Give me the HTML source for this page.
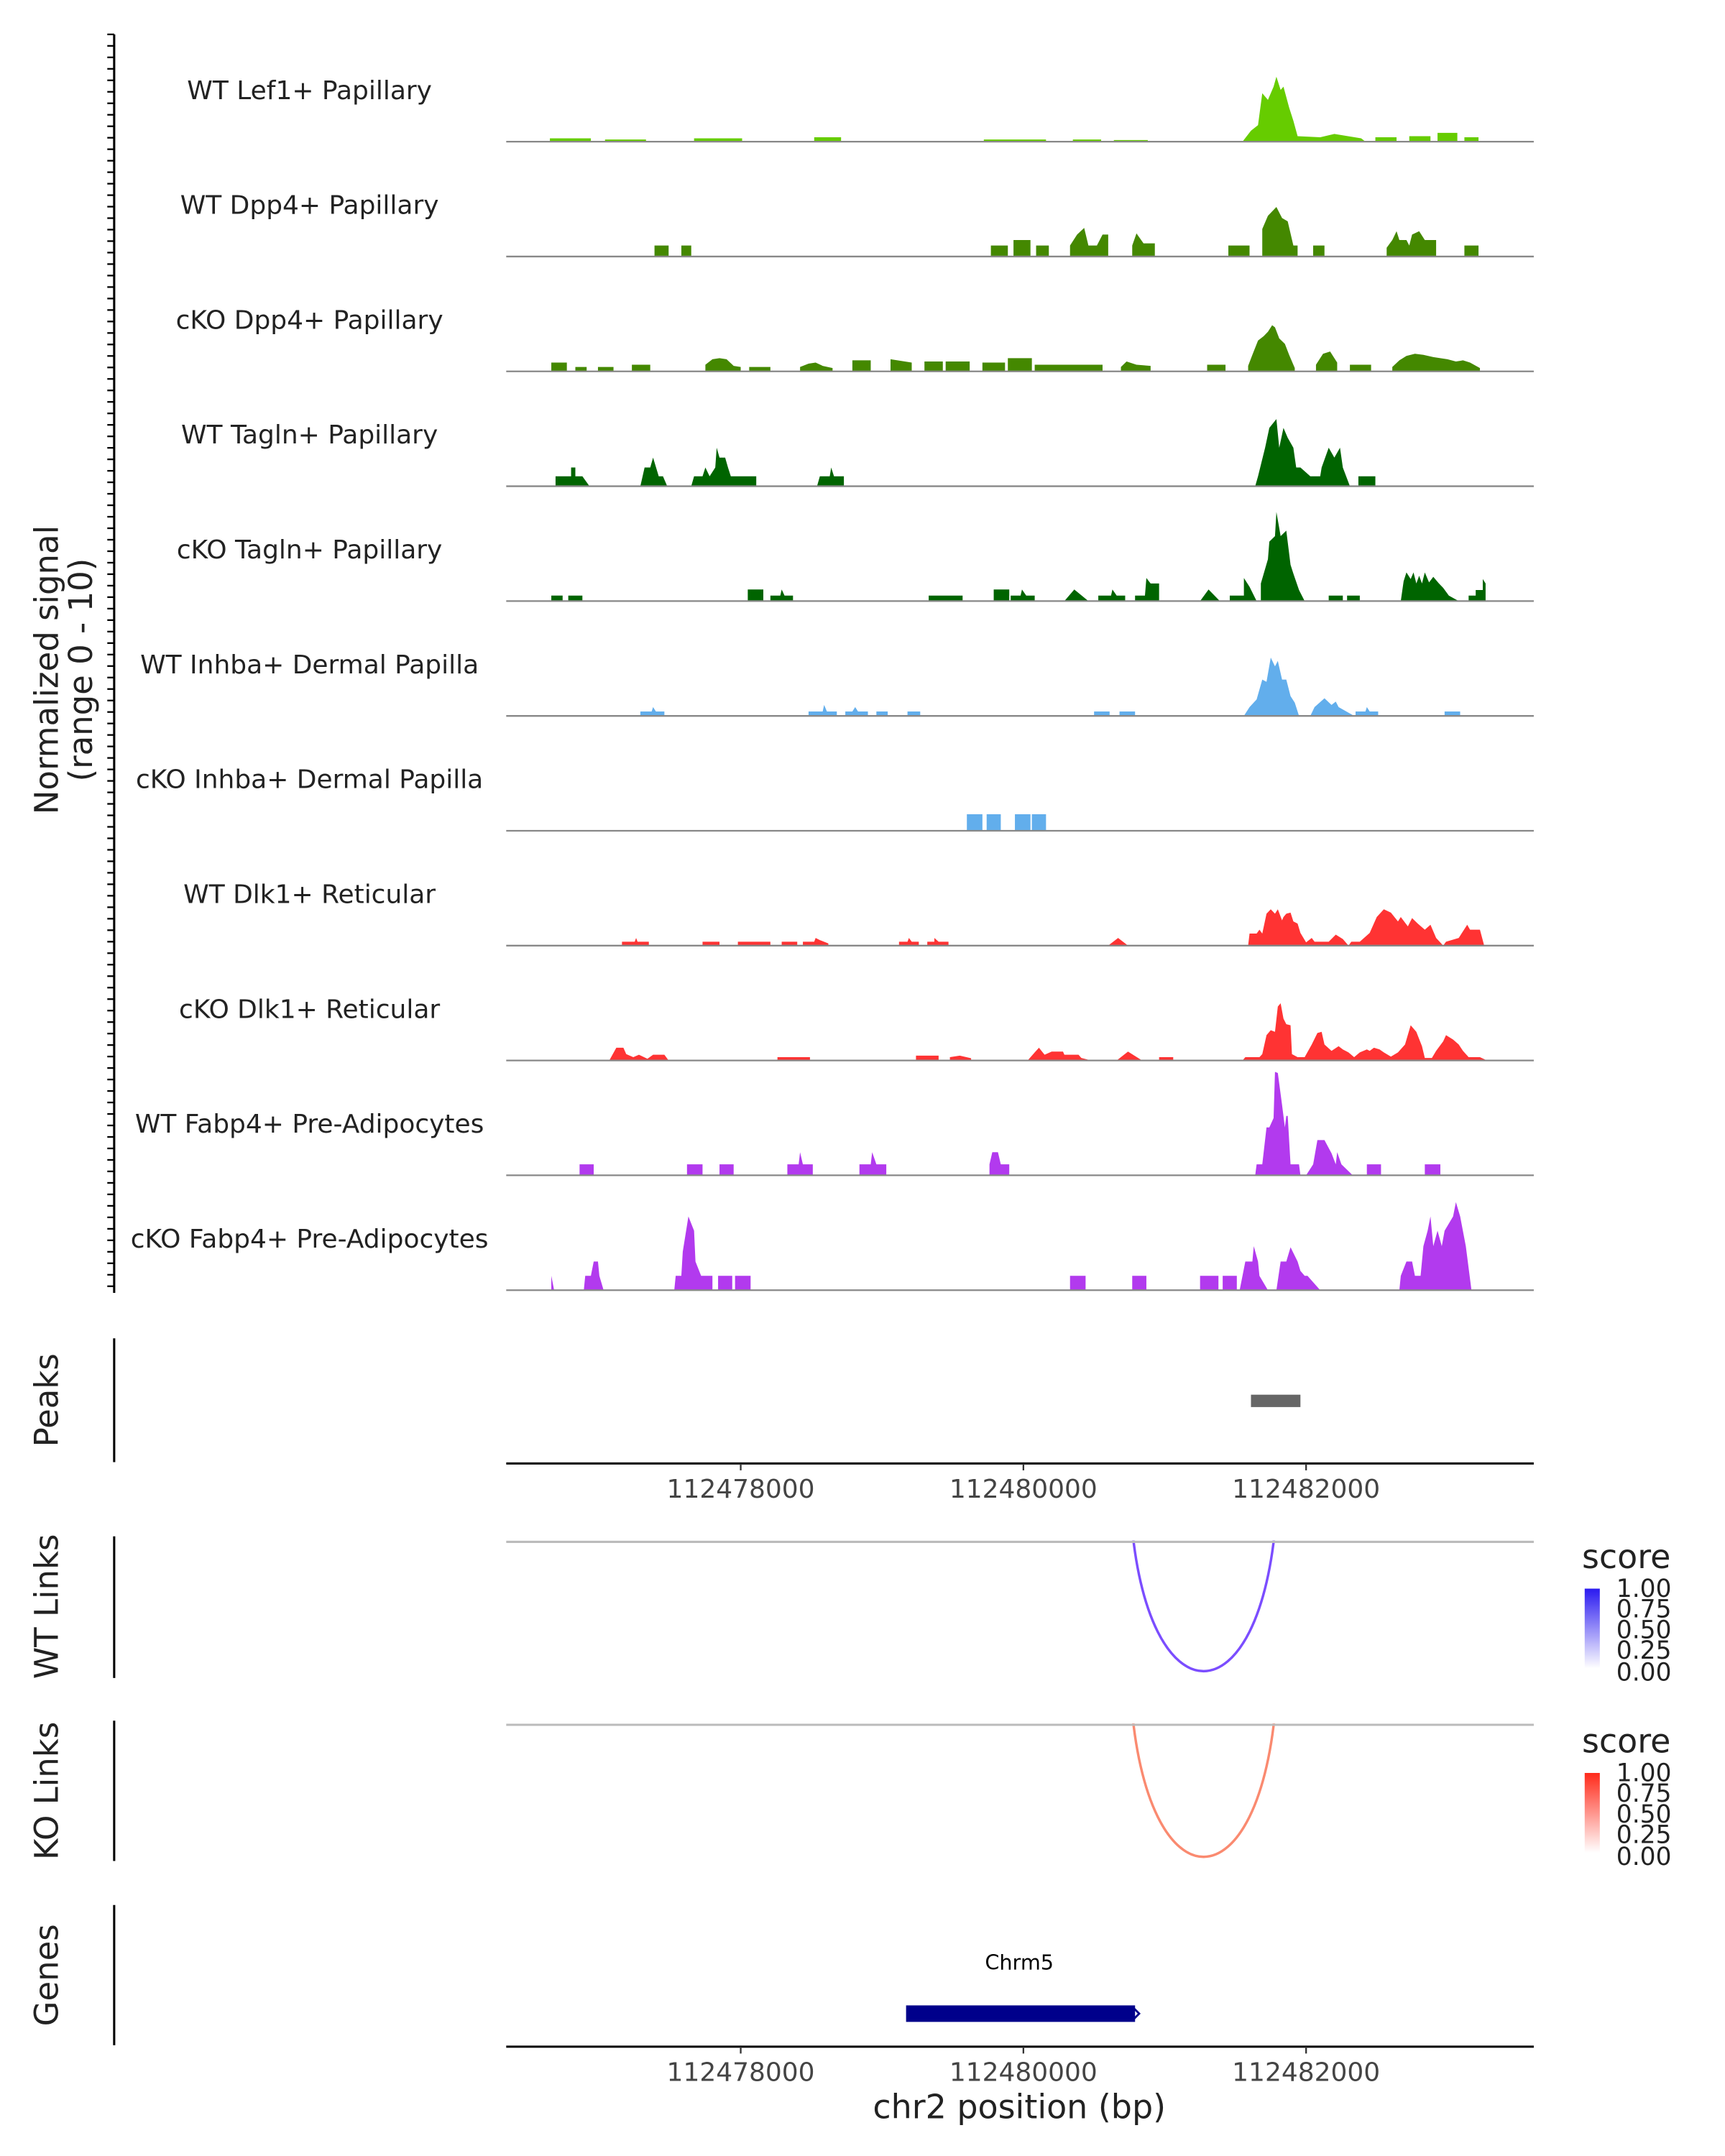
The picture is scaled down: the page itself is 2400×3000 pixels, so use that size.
<!DOCTYPE html>
<html><head><meta charset="utf-8"><style>html,body{margin:0;padding:0;background:#fff}svg{display:block}text{font-family:"DejaVu Sans","Liberation Sans",sans-serif}</style></head>
<body>
<svg id="chart" xmlns="http://www.w3.org/2000/svg" width="2400" height="3000" viewBox="0 0 1254 1567.5">
<rect x="0" y="0" width="1254" height="1567.5" fill="#fff"/>
<g id="tracks"></g>
<text transform="translate(42,487) rotate(-90)" text-anchor="middle" font-size="23.5" fill="#222">Normalized signal</text>
<text transform="translate(67,487) rotate(-90)" text-anchor="middle" font-size="23.5" fill="#222">(range 0 - 10)</text>
<text transform="translate(42,1018) rotate(-90)" text-anchor="middle" font-size="23.5" fill="#222">Peaks</text>
<line x1="83" y1="973" x2="83" y2="1063" stroke="#000" stroke-width="1.6"/>
<text transform="translate(42,1168) rotate(-90)" text-anchor="middle" font-size="23.5" fill="#222">WT Links</text>
<line x1="83" y1="1117" x2="83" y2="1220" stroke="#000" stroke-width="1.6"/>
<text transform="translate(42,1302) rotate(-90)" text-anchor="middle" font-size="23.5" fill="#222">KO Links</text>
<line x1="83" y1="1251" x2="83" y2="1353" stroke="#000" stroke-width="1.6"/>
<text transform="translate(42,1436) rotate(-90)" text-anchor="middle" font-size="23.5" fill="#222">Genes</text>
<line x1="83" y1="1385" x2="83" y2="1487" stroke="#000" stroke-width="1.6"/>
<line x1="368" y1="1121" x2="1115" y2="1121" stroke="#bbb" stroke-width="1.6"/>
<line x1="368" y1="1254" x2="1115" y2="1254" stroke="#bbb" stroke-width="1.6"/>
<text x="741" y="1432" text-anchor="middle" font-size="15" fill="#000">Chrm5</text>
<text x="741" y="1540" text-anchor="middle" font-size="24" fill="#222">chr2 position (bp)</text>
<defs>
<linearGradient id="gblue" x1="0" y1="1" x2="0" y2="0"><stop offset="0" stop-color="#fff"/><stop offset="1" stop-color="#2a1af0"/></linearGradient>
<linearGradient id="gred" x1="0" y1="1" x2="0" y2="0"><stop offset="0" stop-color="#fff"/><stop offset="1" stop-color="#ff2a1a"/></linearGradient>
</defs>
<g>
<text x="1150" y="1140" font-size="24" fill="#222">score</text>
<rect x="1152" y="1155" width="11" height="58" fill="url(#gblue)"/>
<g font-size="18" fill="#222"><text x="1175" y="1161">1.00</text><text x="1175" y="1176">0.75</text><text x="1175" y="1191">0.50</text><text x="1175" y="1206">0.25</text><text x="1175" y="1222">0.00</text></g>
</g>
<g>
<text x="1150" y="1274" font-size="24" fill="#222">score</text>
<rect x="1152" y="1289" width="11" height="58" fill="url(#gred)"/>
<g font-size="18" fill="#222"><text x="1175" y="1295">1.00</text><text x="1175" y="1310">0.75</text><text x="1175" y="1325">0.50</text><text x="1175" y="1340">0.25</text><text x="1175" y="1356">0.00</text></g>
</g>
</svg>
<script>
const trackNames = ["WT Lef1+ Papillary","WT Dpp4+ Papillary","cKO Dpp4+ Papillary","WT Tagln+ Papillary","cKO Tagln+ Papillary","WT Inhba+ Dermal Papilla","cKO Inhba+ Dermal Papilla","WT Dlk1+ Reticular","cKO Dlk1+ Reticular","WT Fabp4+ Pre-Adipocytes","cKO Fabp4+ Pre-Adipocytes"];
const trackColors = ["#66cc00","#448800","#448800","#006400","#006400","#62aeec","#62aeec","#ff3333","#ff3333","#b23aee","#b23aee"];
const xTicks = [112478000,112480000,112482000];
const xTickLabels = ["112478000","112480000","112482000"];
const peakRanges = [[112481610,112481960]];
const wtLinks = [[112480760,112481790,0.62]];
const koLinks = [[112480760,112481790,0.55]];
const genes = [["Chrm5",112479170,112480790]];
// signal segments: [kb, value]
const sig0 = [[[476.65,.3],[476.94,.3]],[[477.04,.2],[477.33,.2]],[[477.67,.3],[478.01,.3]],[[478.52,.4],[478.71,.4]],[[479.72,.2],[480.16,.2]],[[480.35,.2],[480.55,.2]],[[480.64,.15],[480.88,.15]],
[[481.55,0],[481.61,1.0],[481.66,1.5],[481.69,4.4],[481.73,3.8],[481.77,5],[481.79,5.9],[481.82,4.7],[481.84,5],[481.88,3.1],[481.91,1.9],[481.94,.5],[482.10,.4],[482.20,.7],[482.39,.3],[482.42,0]],
[[482.49,.4],[482.64,.4]],[[482.73,.5],[482.88,.5]],[[482.93,.8],[483.07,.8]],[[483.12,.4],[483.22,.4]]];
const sig1 = [[[477.39,1],[477.49,1]],[[477.58,1],[477.65,1]],[[479.77,1],[479.89,1]],[[479.93,1.5],[480.05,1.5]],[[480.09,1],[480.18,1]],
[[480.33,1],[480.38,2],[480.43,2.6],[480.46,1],[480.52,1],[480.56,2],[480.60,2]],[[480.77,1],[480.80,2.1],[480.85,1.2],[480.93,1.2]],[[481.45,1],[481.60,1]],
[[481.69,2.5],[481.73,3.7],[481.79,4.5],[481.83,3.5],[481.87,3.2],[481.91,1],[481.94,1]],[[482.05,1],[482.13,1]],
[[482.57,.8],[482.61,1.5],[482.64,2.3],[482.66,1.5],[482.71,1.5],[482.73,1],[482.75,2],[482.80,2.3],[482.84,1.5],[482.92,1.5]],[[483.12,1],[483.22,1]]];
const sig2 = [[[476.66,.8],[476.77,.8]],[[476.83,.4],[476.91,.4]],[[476.99,.4],[477.10,.4]],[[477.23,.6],[477.36,.6]],
[[477.75,.6],[477.80,1.1],[477.85,1.2],[477.90,1.1],[477.95,.5],[478.00,.4]],[[478.06,.4],[478.21,.4]],[[478.42,.4],[478.48,.7],[478.53,.8],[478.58,.5],[478.65,.3]],
[[478.79,1],[478.92,1]],[[479.06,1.1],[479.21,.8]],[[479.30,.9],[479.43,.9]],[[479.45,.9],[479.62,.9]],[[479.71,.8],[479.87,.8]],[[479.89,1.2],[480.06,1.2]],[[480.08,.6],[480.56,.6]],
[[480.69,.4],[480.73,.9],[480.80,.6],[480.90,.5]],[[481.30,.6],[481.43,.6]],
[[481.59,.5],[481.62,1.5],[481.66,2.8],[481.70,3.2],[481.73,3.6],[481.76,4.2],[481.78,4.0],[481.81,3.0],[481.85,2.5],[481.88,1.5],[481.92,.3]],
[[482.07,.6],[482.12,1.6],[482.17,1.8],[482.22,.8]],[[482.31,.6],[482.46,.6]],
[[482.61,.4],[482.66,1.0],[482.71,1.4],[482.77,1.6],[482.83,1.5],[482.90,1.3],[482.95,1.2],[483.00,1.1],[483.06,.9],[483.11,1.0],[483.16,.8],[483.23,.3]]];
const sig3 = [[[476.69,.9],[476.80,.9],[476.80,1.7],[476.83,1.7],[476.83,.9],[476.88,.9],[476.93,0]],
[[477.29,0],[477.32,1.7],[477.36,1.7],[477.38,2.6],[477.42,.9],[477.45,.9],[477.48,0]],
[[477.65,0],[477.67,.9],[477.73,.9],[477.75,1.7],[477.78,.9],[477.82,1.7],[477.83,3.5],[477.85,2.6],[477.89,2.6],[477.91,1.7],[477.93,.9],[478.11,.9]],
[[478.54,0],[478.56,.9],[478.63,.9],[478.64,1.7],[478.66,.9],[478.73,.9]],
[[481.64,0],[481.66,.9],[481.71,3.5],[481.74,5.3],[481.79,6.1],[481.81,3.5],[481.84,5.3],[481.87,4.4],[481.91,3.5],[481.93,1.7],[481.96,1.7],[482.03,.9],[482.10,.9],[482.11,1.7],[482.16,3.5],[482.20,2.6],[482.24,3.5],[482.26,1.7],[482.31,0]],
[[482.37,.9],[482.49,.9]]];
const sig4 = [[[476.66,.5],[476.74,.5]],[[476.78,.5],[476.88,.5]],[[478.05,1.05],[478.16,1.05]],[[478.21,.5],[478.28,.5],[478.29,1.05],[478.31,.5],[478.37,.5]],[[479.33,.5],[479.57,.5]],
[[479.79,1.05],[479.90,1.05]],[[479.91,.5],[479.98,.5],[479.99,1.05],[480.02,.5],[480.08,.5]],[[480.29,0],[480.36,1.05],[480.46,0]],[[480.53,.5],[480.62,.5],[480.63,1.05],[480.66,.5],[480.72,.5]],
[[480.79,.5],[480.86,.5],[480.87,2.1],[480.90,1.6],[480.96,1.6]],[[481.25,0],[481.31,1.05],[481.39,0]],[[481.46,.5],[481.56,.5],[481.56,2.1],[481.60,1.3],[481.65,0]],
[[481.68,1.6],[481.73,3.8],[481.74,5.4],[481.78,5.9],[481.79,8.1],[481.82,5.9],[481.86,6.4],[481.89,3.3],[481.91,2.5],[481.95,1.0],[481.99,0]],
[[482.16,.5],[482.26,.5]],[[482.29,.5],[482.38,.5]],
[[482.67,0],[482.69,1.8],[482.71,2.6],[482.74,2.0],[482.76,2.6],[482.78,1.6],[482.80,2.3],[482.82,1.6],[482.84,2.6],[482.87,1.7],[482.90,2.2],[482.94,1.6],[482.97,1.2],[483.01,.5],[483.08,0]],
[[483.15,.5],[483.20,.5],[483.20,1.0],[483.25,1.0],[483.25,2.0],[483.27,1.6]]];
const sig5 = [[[477.29,.4],[477.37,.4],[477.38,.8],[477.40,.4],[477.46,.4]],[[478.48,.4],[478.58,.4],[478.59,1.0],[478.61,.4],[478.68,.4]],[[478.74,.4],[478.79,.4],[478.81,.8],[478.83,.4],[478.90,.4]],
[[478.96,.4],[479.04,.4]],[[479.18,.4],[479.27,.4]],[[480.50,.4],[480.61,.4]],[[480.68,.4],[480.79,.4]],
[[481.56,0],[481.60,.8],[481.65,1.5],[481.69,3.3],[481.72,3.1],[481.75,5.3],[481.78,4.5],[481.80,5.0],[481.83,3.3],[481.86,3.3],[481.89,1.8],[481.92,1.2],[481.95,0]],
[[482.03,0],[482.06,.8],[482.13,1.6],[482.18,1.0],[482.21,1.3],[482.23,.8],[482.34,0]],[[482.35,.4],[482.42,.4],[482.43,.8],[482.45,.4],[482.51,.4]],[[482.98,.4],[483.09,.4]]];
const sig6 = [[[479.60,1.5],[479.71,1.5]],[[479.74,1.5],[479.84,1.5]],[[479.94,1.5],[480.05,1.5]],[[480.06,1.5],[480.16,1.5]]];
const sig7 = [[[477.16,.35],[477.25,.35],[477.26,.7],[477.27,.35],[477.35,.35]],[[477.73,.35],[477.85,.35]],[[477.98,.35],[478.21,.35]],[[478.29,.35],[478.40,.35]],
[[478.44,.35],[478.52,.35],[478.53,.7],[478.56,.5],[478.62,.2]],[[479.12,.35],[479.18,.35],[479.19,.7],[479.21,.35],[479.26,.35]],[[479.32,.35],[479.37,.35],[479.37,.7],[479.40,.35],[479.47,.35]],
[[480.60,0],[480.67,.7],[480.74,0]],
[[481.59,0],[481.60,1.1],[481.65,1.1],[481.67,1.45],[481.69,1.1],[481.72,2.9],[481.75,3.3],[481.78,2.9],[481.80,3.3],[481.83,2.3],[481.84,2.6],[481.86,2.9],[481.89,3.0],[481.91,2.2],[481.94,2.0],[481.96,1.15],[482.00,.3],[482.04,.7],[482.06,.35],[482.16,.35],[482.21,1.0],[482.26,.6],[482.30,0],
[482.32,.35],[482.38,.35],[482.45,1.15],[482.50,2.6],[482.55,3.3],[482.60,3.0],[482.65,2.2],[482.67,2.6],[482.72,1.75],[482.75,2.5],[482.79,2.0],[482.84,1.45],[482.88,1.9],[482.92,.7],[482.97,0],[482.99,.35],[483.08,.7],[483.14,1.9],[483.16,1.45],[483.23,1.45],[483.26,0]]];
const sig8 = [[[477.07,0],[477.12,1.16],[477.17,1.16],[477.19,.58],[477.24,.3],[477.28,.52],[477.34,.15],[477.38,.52],[477.46,.52],[477.49,0]],[[478.26,.3],[478.49,.3]],[[479.24,.44],[479.40,.44]],[[479.48,.3],[479.55,.44],[479.63,.2]],
[[480.03,0],[480.08,.73],[480.11,1.16],[480.15,.52],[480.20,.81],[480.28,.81],[480.29,.52],[480.39,.52],[480.41,.23],[480.48,0]],[[480.66,0],[480.74,.81],[480.84,0]],[[480.96,.3],[481.06,.3]],
[[481.55,0],[481.57,.3],[481.67,.3],[481.69,.58],[481.72,2.3],[481.75,2.75],[481.78,2.6],[481.80,4.9],[481.82,5.2],[481.84,3.8],[481.86,3.3],[481.89,3.2],[481.90,.58],[481.94,.3],[481.99,.3],[482.04,1.45],[482.08,2.5],[482.11,2.6],[482.13,1.45],[482.18,.87],[482.23,1.3],[482.26,1.0],[482.30,.73],[482.34,.3],[482.38,.73],[482.43,1.0],[482.45,.87],[482.48,1.16],[482.52,1.0],[482.55,.73],[482.60,.35],[482.65,.73],[482.70,1.45],[482.74,3.2],[482.78,2.6],[482.82,1.3],[482.84,.23],[482.89,.23],[482.92,.87],[482.97,1.74],[482.99,2.3],[483.04,1.9],[483.08,1.45],[483.11,.87],[483.15,.3],[483.23,.3],[483.28,0]]];
const sig9 = [[[476.86,1.0],[476.96,1.0]],[[477.62,1.0],[477.73,1.0]],[[477.85,1.0],[477.95,1.0]],[[478.33,1.0],[478.41,1.0],[478.42,2.1],[478.44,1.0],[478.51,1.0]],[[478.84,1.0],[478.92,1.0],[478.93,2.1],[478.96,1.0],[479.03,1.0]],
[[479.76,1.0],[479.78,2.1],[479.82,2.1],[479.84,1.0],[479.90,1.0]],
[[481.64,0],[481.65,1.0],[481.69,1.0],[481.72,4.35],[481.74,4.35],[481.77,5.2],[481.78,9.4],[481.80,9.3],[481.83,6.4],[481.85,4.35],[481.86,5.4],[481.87,5.4],[481.89,1.0],[481.95,1.0],[481.96,0]],
[[482.00,0],[482.05,1.0],[482.08,3.2],[482.13,3.2],[482.18,2.0],[482.21,1.0],[482.22,2.1],[482.25,1.0],[482.33,0]],[[482.43,1.0],[482.53,1.0]],[[482.84,1.0],[482.95,1.0]]];
const sig10 = [[[476.66,1.3],[476.68,0]],[[476.89,0],[476.90,1.3],[476.94,1.3],[476.96,2.6],[476.99,2.6],[477.00,1.3],[477.03,0]],
[[477.53,0],[477.54,1.3],[477.58,1.3],[477.59,3.5],[477.63,6.7],[477.67,5.4],[477.68,2.6],[477.72,1.3],[477.80,1.3]],[[477.84,1.3],[477.94,1.3]],[[477.96,1.3],[478.07,1.3]],
[[480.33,1.3],[480.44,1.3]],[[480.77,1.3],[480.87,1.3]],[[481.25,1.3],[481.38,1.3]],[[481.41,1.3],[481.51,1.3]],
[[481.53,0],[481.57,2.6],[481.62,2.6],[481.63,4.0],[481.66,2.6],[481.67,1.3],[481.73,0]],
[[481.79,0],[481.82,2.6],[481.86,2.6],[481.89,3.9],[481.94,2.6],[481.96,1.75],[481.99,1.3],[482.01,1.3],[482.10,0]],
[[482.66,0],[482.67,1.3],[482.71,2.6],[482.75,2.6],[482.77,1.3],[482.81,1.3],[482.83,4.0],[482.86,5.4],[482.88,6.7],[482.90,4.0],[482.93,5.4],[482.96,4.0],[482.98,5.4],[483.04,6.7],[483.06,8.0],[483.09,6.7],[483.13,4.0],[483.17,0]]];
const signals = [sig0,sig1,sig2,sig3,sig4,sig5,sig6,sig7,sig8,sig9,sig10];

const NS='http://www.w3.org/2000/svg';
const X0=368,X1=1115,BP0=112476341,BP1=112483611;
function xs(bp){return X0+(bp-BP0)/(BP1-BP0)*(X1-X0);}
function xk(kb){return xs(112000000+kb*1000);}
const trackStep=83.5, unitPx=8;
function base(i){return 103+i*trackStep;}
function ys(i,v){return base(i)-v*unitPx;}
const g=document.getElementById('tracks');
function mk(tag,attrs,parent){const e=document.createElementNS(NS,tag);for(const k in attrs)e.setAttribute(k,attrs[k]);(parent||g).appendChild(e);return e;}

const ax=mk('line',{x1:83,y1:25,x2:83,y2:940,stroke:'#000','stroke-width':1.6});


for(let y=25;y<=941;y+=8.35){const t=mk('line',{x1:78,y1:y,x2:83,y2:y,stroke:'#000','stroke-width':1.2});

}

signals.forEach((segs,i)=>{
  const grp=mk('g',{});
  
  
  const lbl=mk('text',{x:225,y:base(i)-31,'text-anchor':'middle','font-size':18.8,fill:'#222'},grp);
  lbl.textContent=trackNames[i];
  
  
  segs.forEach(seg=>{
    let d='M'+xk(seg[0][0]).toFixed(2)+','+base(i);
    seg.forEach(p=>{d+=' L'+xk(p[0]).toFixed(2)+','+ys(i,p[1]).toFixed(2);});
    d+=' L'+xk(seg[seg.length-1][0]).toFixed(2)+','+base(i)+' Z';
    const a=mk('path',{d:d,fill:trackColors[i]},grp);
    
    
  });
  const bl=mk('line',{x1:X0,y1:base(i),x2:X1,y2:base(i),stroke:'#888','stroke-width':1.2},grp);
  
  
});

peakRanges.forEach(p=>{const r=mk('rect',{x:xs(p[0]),y:1014,width:xs(p[1])-xs(p[0]),height:9,fill:'#666'});

});

function xaxis(y,name){
  const l=mk('line',{x1:X0,y1:y,x2:X1,y2:y,stroke:'#000','stroke-width':1.6});
  
  
  xTicks.forEach((t,k)=>{
    const tk=mk('line',{x1:xs(t),y1:y,x2:xs(t),y2:y+5,stroke:'#333','stroke-width':1.2});
    
    
    const tl=mk('text',{x:xs(t),y:y+25,'text-anchor':'middle','font-size':18.8,fill:'#444'});
    tl.textContent=xTickLabels[k];
    
    
  });
}
xaxis(1064,'peaks-x-axis');
xaxis(1488,'genes-x-axis');

function links(arr,y0,depth,color,name){
  arr.forEach(L=>{
    const a=xs(L[0]),b=xs(L[1]),c=depth/0.75;
    const p=mk('path',{d:`M${a},${y0} C${a+(b-a)*0.1},${y0+c} ${b-(b-a)*0.1},${y0+c} ${b},${y0}`,fill:'none',stroke:color,'stroke-width':1.8});
    
    
  });
}
links(wtLinks,1100,115,'#7b4dff','wt-link-arc');
links(koLinks,1233,117,'#fa8a70','ko-link-arc');
const cv1=mk('rect',{x:780,y:1090,width:200,height:30,fill:'#fff'});


const cv2=mk('rect',{x:780,y:1224,width:200,height:29,fill:'#fff'});



genes.forEach(G=>{
  const a=xs(G[1]),b=xs(G[2]);
  const r=mk('rect',{x:a,y:1458,width:b-a,height:12,fill:'#00008b'});
  
  
  const ar=mk('path',{d:`M${b-2},1459 L${b+3},1464 L${b-2},1469`,fill:'none',stroke:'#00008b','stroke-width':1.5});
  
  
});
</script>
</body></html>
